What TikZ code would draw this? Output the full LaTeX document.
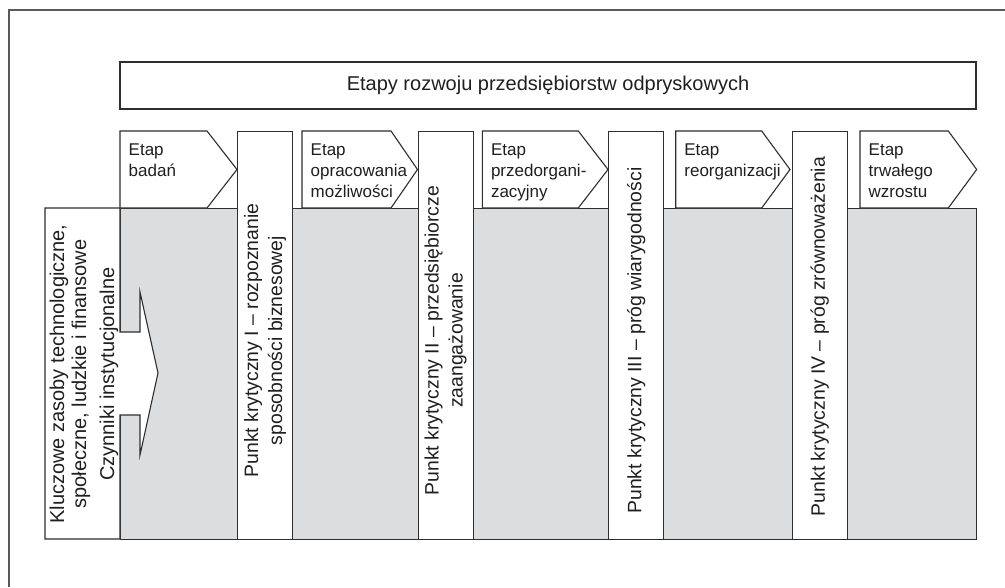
\documentclass[tikz,border=0pt]{standalone}
\usepackage{fontspec}
\setmainfont{Liberation Sans}
\definecolor{panel}{HTML}{DCDDDF}
\definecolor{ink}{HTML}{2E2E2E}
\definecolor{frameline}{HTML}{5A5A5A}
\begin{document}
\begin{tikzpicture}[x=1pt,y=-1pt,
  outline/.style={draw=ink, line width=1.1pt},
  stagebox/.style={outline, fill=white},
  stagetext/.style={anchor=north west, inner sep=0pt, align=left,
    text=black!88, font=\fontsize{17}{21}\selectfont},
  barbox/.style={outline, fill=white, anchor=north west, inner sep=0pt,
    minimum width=55pt, minimum height=408pt},
  bartext/.style={rotate=90, inner sep=0pt, align=center,
    text=black!88, font=\fontsize{19.4}{24}\selectfont},
]
\useasboundingbox (0,0) rectangle (1005,587);

% outer frame (only its left and top sides lie on the page)
\draw[draw=frameline, line width=1.5pt] (9,587) -- (9,10) -- (1005,10);

% heading
\node[outline, minimum width=856pt, minimum height=47pt, inner sep=0pt,
  text=black!88, font=\fontsize{20}{24}\selectfont] (title) at (548,85.5)
  {Etapy rozwoju przedsiębiorstw odpryskowych};

% grey panel behind the stages
\node[outline, fill=panel, anchor=north west, inner sep=0pt,
  minimum width=856pt, minimum height=331pt] (panel) at (120,208) {};

% left column with the arrow feeding the panel
\draw[outline, fill=white] (45,208) -- (120,208) -- (120,332) -- (140,332)
  -- (140,292) -- (158,373) -- (140,455) -- (140,415) -- (120,415)
  -- (120,539) -- (45,539) -- cycle;
\node[rotate=90, inner sep=0pt, align=center, text=black!88,
  font=\fontsize{20}{22}\selectfont] (inputs) at (84,374)
  {Kluczowe zasoby technologiczne,\\społeczne, ludzkie i finansowe\\[6pt]Czynniki instytucjonalne};

% stage arrows
\foreach \l/\s/\t/\n/\txt in {
  120/207/237/s1/{Etap\\badań},
  302/391/417.5/s2/{Etap\\opracowania\\możliwości},
  482.3/578.3/608/s3/{Etap\\przedorgani-\\zacyjny},
  675.7/761.7/790/s4/{Etap\\reorganizacji},
  860/948.3/976.7/s5/{Etap\\trwałego\\wzrostu}}{
  \draw[stagebox] (\l,131) -- (\s,131) -- (\t,169.5) -- (\s,208) -- (\l,208) -- cycle;
  \node[stagetext] (\n) at (\l+8.5,144) {\txt};
}

% critical points
\node[barbox] (b1) at (237,131) {};
\node[barbox] (b2) at (417.5,131) {};
\node[barbox] (b3) at (608.3,131) {};
\node[barbox] (b4) at (791.7,131) {};
\node[bartext] (t1) at ([yshift=-5pt]b1.center) {Punkt krytyczny I – rozpoznanie\\sposobności biznesowej};
\node[bartext] (t2) at ([yshift=-5pt]b2.center) {Punkt krytyczny II – przedsiębiorcze\\zaangażowanie};
\node[bartext] (t3) at ([yshift=-5pt]b3.center) {Punkt krytyczny III – próg wiarygodności};
\node[bartext] (t4) at ([yshift=-1pt]b4.center) {Punkt krytyczny IV – próg zrównoważenia};
\end{tikzpicture}
\end{document}
